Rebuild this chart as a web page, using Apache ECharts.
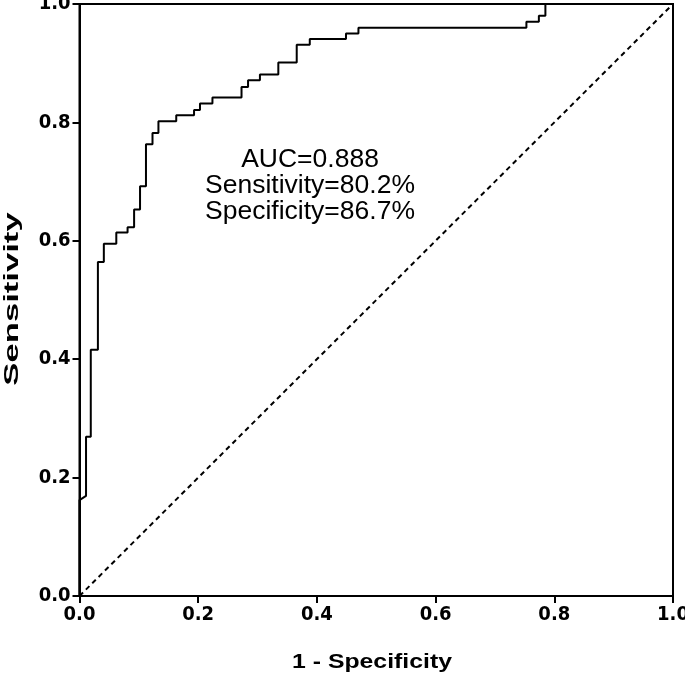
<!DOCTYPE html>
<html><head><meta charset="utf-8">
<script src="https://cdn.jsdelivr.net/npm/echarts@6/dist/echarts.min.js"></script>
<style>html,body{margin:0;padding:0;background:#fff}#c{width:685px;height:677px}</style>
</head><body><div id="c"></div>
<script>
const fpr = [0,0,0.011,0.011,0.019,0.019,0.031,0.031,0.041,0.041,0.062,0.062,0.081,0.081,0.092,0.092,0.102,0.102,0.112,0.112,0.123,0.123,0.133,0.133,0.163,0.163,0.193,0.193,0.203,0.203,0.224,0.224,0.273,0.273,0.284,0.284,0.304,0.304,0.335,0.335,0.366,0.366,0.388,0.388,0.449,0.449,0.470,0.470,0.753,0.753,0.774,0.774,0.785,0.785,1];
const tpr = [0,0.162,0.169,0.269,0.269,0.416,0.416,0.564,0.564,0.595,0.595,0.614,0.614,0.623,0.623,0.653,0.653,0.692,0.692,0.763,0.763,0.782,0.782,0.802,0.802,0.812,0.812,0.821,0.821,0.832,0.832,0.842,0.842,0.860,0.860,0.871,0.871,0.881,0.881,0.901,0.901,0.931,0.931,0.941,0.941,0.950,0.950,0.960,0.960,0.970,0.970,0.980,0.980,1.0,1.0];
const refX = [0,1];
const refY = [0,1];
const tickLabels = ['0.0','0.2','0.4','0.6','0.8','1.0'];
const annotation = ['AUC=0.888','Sensitivity=80.2%','Specificity=86.7%'];
const xTitle = '1 - Specificity';
const yTitle = 'Sensitivity';

const fam = '"DejaVu Sans Condensed","Liberation Sans Narrow","Arial Narrow","Liberation Sans",Arial,sans-serif';
const chart = echarts.init(document.getElementById('c'), null, {renderer:'canvas'});
const axisCommon = {
  min:0, max:1, interval:0.2,
  axisLine:{show:true, lineStyle:{color:'#000', width:2}},
  axisTick:{show:true, length:7, lineStyle:{color:'#000', width:2}},
  splitLine:{show:false},
  axisLabel:{color:'#000', fontFamily:fam, fontWeight:'bold', fontSize:20, margin:9,
    formatter:(v)=>tickLabels[Math.round(v*5)]}
};
chart.setOption({
  animation:false,
  backgroundColor:'#fff',
  grid:{left:79.5, right:12, top:4, bottom:81, containLabel:false, outerBoundsMode:'none',
    show:true, borderColor:'#000', borderWidth:2, backgroundColor:'transparent'},
  xAxis:Object.assign({}, axisCommon, {type:'value'}),
  yAxis:Object.assign({}, axisCommon, {type:'value'}),
  series:[
    {type:'line', data:refX.map((x,i)=>[x,refY[i]]), symbol:'none',
      lineStyle:{color:'#000', width:2, type:[5,4]}, silent:true},
    {type:'line', data:fpr.map((x,i)=>[x,tpr[i]]), symbol:'none',
      lineStyle:{color:'#000', width:2}, silent:true}
  ],
  graphic:[
    ...annotation.map((t,i)=>({
      type:'text', x:310, y:160+i*26, scaleX:1.06,
      style:{text:t, fill:'#000', font:'25px "Liberation Sans",Arial,sans-serif', align:'center', verticalAlign:'middle'}
    })),
    {type:'text', x:372, y:662, scaleX:1.24,
      style:{text:xTitle, fill:'#000', font:'bold 20px "Liberation Sans",Arial,sans-serif', align:'center', verticalAlign:'middle'}},
    {type:'text', x:12, y:299, rotation:Math.PI/2, scaleX:1.65,
      style:{text:yTitle, fill:'#000', font:'bold 21px "Liberation Sans",Arial,sans-serif', align:'center', verticalAlign:'middle'}}
  ]
});
</script></body></html>
